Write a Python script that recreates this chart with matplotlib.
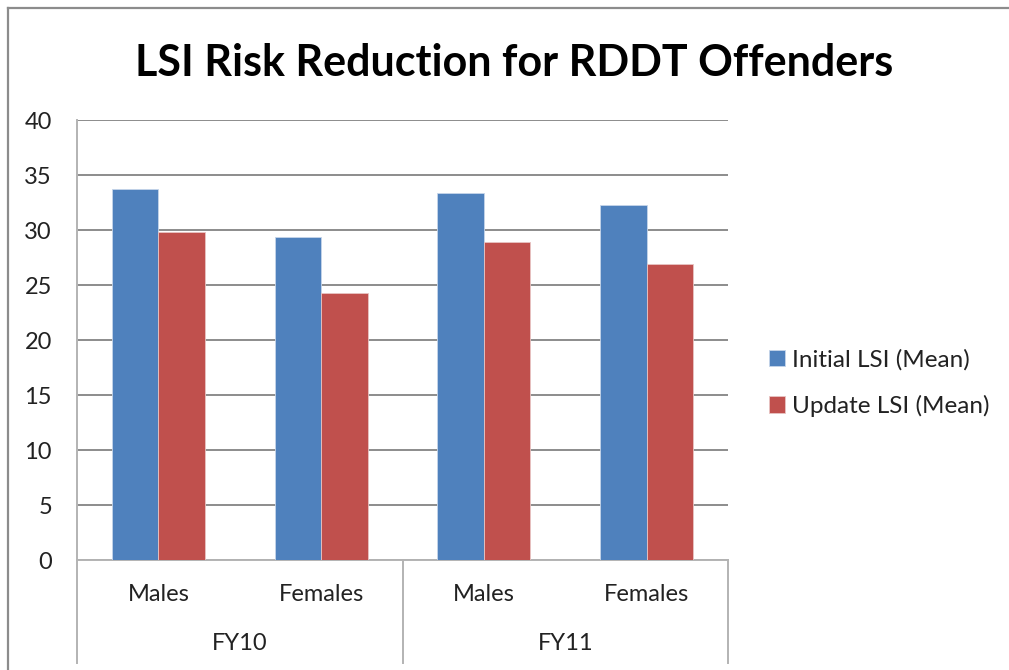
import matplotlib
matplotlib.use("Agg")
import matplotlib.pyplot as plt
from matplotlib.lines import Line2D
import numpy as np

# Data
years = ["FY10", "FY11"]
groups = ["Males", "Females", "Males", "Females"]
initial_lsi = [33.8, 29.4, 33.4, 32.3]
update_lsi = [29.8, 24.3, 28.9, 26.9]
series_names = ["Initial LSI (Mean)", "Update LSI (Mean)"]
y_ticks = [0, 5, 10, 15, 20, 25, 30, 35, 40]

BLUE = "#4F81BD"
RED = "#C0504D"
GRID = "#8C8C8C"
AXIS = "#B3B3B3"
FONT = "Lato"
TXT = "#222222"

W, H = 1009, 670
fig = plt.figure(figsize=(W / 100, H / 100), dpi=100)
fig.patch.set_facecolor("white")

# Outer frame (open at the bottom and right)
px = lambda v: v / W
py = lambda v: 1 - v / H
fig.add_artist(Line2D([px(8), px(8)], [0, py(8)], color="#8C8C8C", lw=1.6,
                      transform=fig.transFigure))
fig.add_artist(Line2D([px(8), 1], [py(8), py(8)], color="#8C8C8C", lw=1.6,
                      transform=fig.transFigure))

ax = fig.add_axes([77 / W, (H - 560.3) / H, 651 / W, 440 / H])

x = np.arange(len(groups))
bw = 0.286
b1 = ax.bar(x - bw / 2, initial_lsi, bw, color=BLUE, edgecolor="#C6D5EA",
            linewidth=0.6, label=series_names[0], zorder=3)
b2 = ax.bar(x + bw / 2, update_lsi, bw, color=RED, edgecolor="#E8C4C3",
            linewidth=0.6, label=series_names[1], zorder=3)

ax.set_xlim(-0.5, len(groups) - 0.5)
ax.set_ylim(0, 40)
ax.set_yticks(y_ticks)
ax.set_yticklabels([str(t) for t in y_ticks], family=FONT, fontsize=17)
ax.yaxis.grid(True, color=GRID, lw=1.4, zorder=0)
ax.set_axisbelow(True)
ax.tick_params(axis="y", length=0, pad=18, colors=TXT)

ax.set_xticks(x)
ax.set_xticklabels(groups, family=FONT, fontsize=17)
ax.tick_params(axis="x", length=0, pad=17, colors=TXT)

for s in ["top", "right"]:
    ax.spines[s].set_visible(False)
ax.spines["left"].set_color(AXIS)
ax.spines["left"].set_linewidth(1.4)
ax.spines["bottom"].set_color(AXIS)
ax.spines["bottom"].set_linewidth(1.4)

# Category separators below the axis, and the group labels
depth = -(663 - 560.3) / 440
trans = ax.get_xaxis_transform()
for xs in [-0.5, 1.5, 3.5]:
    ax.add_line(Line2D([xs, xs], [0, depth], color=AXIS, lw=1.4,
                       transform=trans, clip_on=False))
for i, yr in enumerate(years):
    ax.text(2 * i + 0.5, -(643 - 560.3) / 440, yr, transform=trans,
            ha="center", va="center", family=FONT, fontsize=17, color=TXT)

fig.text(px(514), py(63), "LSI Risk Reduction for RDDT Offenders", family=FONT,
         fontweight="bold", fontsize=31, ha="center", va="center", color="black")

leg = fig.legend(handles=[b1, b2], labels=series_names, loc="center left",
                 bbox_to_anchor=(px(747), py(383)), frameon=False,
                 prop={"family": FONT, "size": 17.5}, handlelength=0.65,
                 handleheight=0.65, handletextpad=0.3, labelspacing=1.0)
for t in leg.get_texts():
    t.set_color(TXT)

fig.savefig("out.png", dpi=100, facecolor="white")
